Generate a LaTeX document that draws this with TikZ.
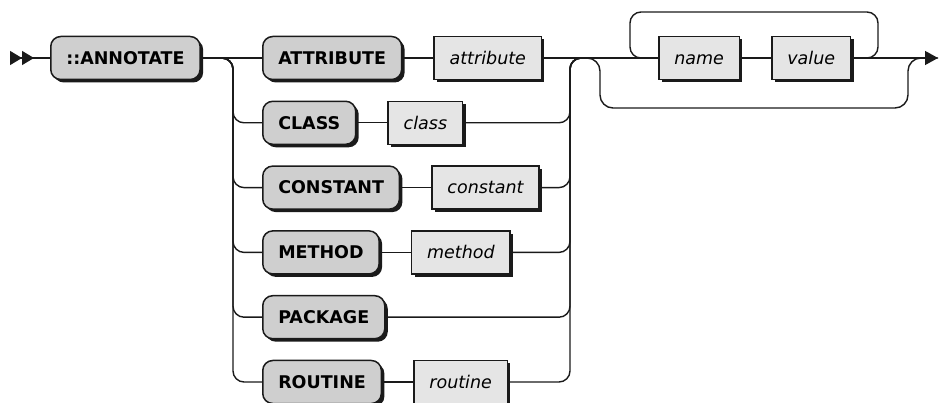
\documentclass[tikz,border=0pt]{standalone}
\usepackage{fontspec}
\setmainfont{DejaVu Sans}
\usetikzlibrary{positioning,arrows.meta,shadows}
\definecolor{railline}{HTML}{1A1A1A}
\definecolor{termfill}{HTML}{CFCFCF}
\definecolor{ntfill}{HTML}{E5E5E5}
\tikzset{
  railbox/.style={draw=railline, line width=1.5pt, minimum height=43pt, inner xsep=15.5pt,
    text height=12.5pt, text depth=0pt,
    drop shadow={shadow xshift=3pt, shadow yshift=-3pt, fill=railline, opacity=1}},
  term/.style={railbox, fill=termfill, rounded corners=10pt, font=\fontsize{17.5}{20}\selectfont\bfseries},
  nonterm/.style={railbox, fill=ntfill, font=\fontsize{17.5}{20}\selectfont\itshape},
  rail/.style={draw=railline, line width=1.4pt, rounded corners=11pt}
}
\begin{document}
\begin{tikzpicture}[x=1pt, y=-1pt]
  \useasboundingbox (0,0) rectangle (940,403);
  \coordinate (start) at (10,58);
  \coordinate (lsplit) at (233,58);
  \coordinate (rjoin) at (570,58);
  \coordinate (rmid) at (585,58);
  \coordinate (skipl) at (600,108);
  \coordinate (skipr) at (908,58);
  \coordinate (loopr) at (878,12);
  \coordinate (loopl) at (630,58);
  \coordinate (stop) at (938,58);

  \node[term, anchor=west] (ann) at (50,58) {::ANNOTATE};
  \node[term, anchor=west] (attrkw) at (262,58) {ATTRIBUTE};
  \node[nonterm, right=31pt of attrkw] (attrnt) {attribute};
  \node[term, anchor=west] (clskw) at (262,122.8) {CLASS};
  \node[nonterm, right=31pt of clskw] (clsnt) {class};
  \node[term, anchor=west] (constkw) at (262,187.6) {CONSTANT};
  \node[nonterm, right=31pt of constkw] (constnt) {constant};
  \node[term, anchor=west] (methkw) at (262,252.4) {METHOD};
  \node[nonterm, right=31pt of methkw] (methnt) {method};
  \node[term, anchor=west] (pkgkw) at (262,317.2) {PACKAGE};
  \node[term, anchor=west] (routkw) at (262,382) {ROUTINE};
  \node[nonterm, right=31pt of routkw] (routnt) {routine};
  \node[nonterm, anchor=west] (nm) at (658,58) {name};
  \node[nonterm, right=31pt of nm] (val) {value};

  \draw[rail, {Triangle[reversed,length=12pt,width=14pt] Triangle[reversed,length=12pt,width=14pt]}-] (start) -- (ann.west);
  \draw[rail] (ann.east) -- (attrkw.west);
  \draw[rail] (attrkw.east) -- (attrnt.west);
  \draw[rail] (attrnt.east) -- (nm.west);
  \draw[rail] (clskw.east) -- (clsnt.west);
  \draw[rail] (constkw.east) -- (constnt.west);
  \draw[rail] (methkw.east) -- (methnt.west);
  \draw[rail] (routkw.east) -- (routnt.west);
  \draw[rail] (nm.east) -- (val.west);
  \draw[rail, -{Triangle[length=13pt,width=14pt]}] (val.east) -- (stop);

  \draw[rail] (ann.east) -| (lsplit |- clskw.west) -- (clskw.west);
  \draw[rail] (ann.east) -| (lsplit |- constkw.west) -- (constkw.west);
  \draw[rail] (ann.east) -| (lsplit |- methkw.west) -- (methkw.west);
  \draw[rail] (ann.east) -| (lsplit |- pkgkw.west) -- (pkgkw.west);
  \draw[rail] (ann.east) -| (lsplit |- routkw.west) -- (routkw.west);

  \draw[rail] (clsnt.east) -| (rjoin) -- (rmid);
  \draw[rail] (constnt.east) -| (rjoin) -- (rmid);
  \draw[rail] (methnt.east) -| (rjoin) -- (rmid);
  \draw[rail] (pkgkw.east) -| (rjoin) -- (rmid);
  \draw[rail] (routnt.east) -| (rjoin) -- (rmid);

  \draw[rail, rounded corners=13pt] (rmid) -| (skipl) -| (skipr) -- (stop);
  \draw[rail] (val.east) -| (loopr) -| (loopl) -- (nm.west);
\end{tikzpicture}
\end{document}
